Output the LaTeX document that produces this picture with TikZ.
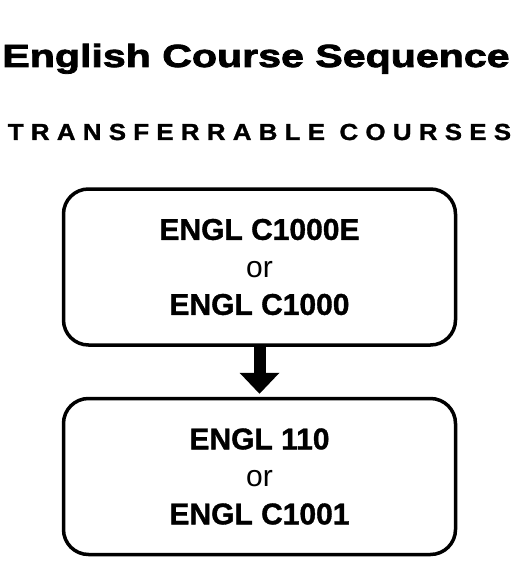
\documentclass[tikz,border=0pt]{standalone}
\usepackage{fontspec}
\setmainfont{Liberation Sans}[BoldFeatures={FakeBold=1.2}]
\newfontfamily\titlefont[FakeStretch=1.285,BoldFeatures={FakeBold=2.5}]{Liberation Sans}
\newfontfamily\subfont[LetterSpace=31,FakeStretch=1.12,BoldFeatures={FakeBold=1.2}]{Liberation Sans}
\usetikzlibrary{arrows.meta}

\begin{document}
\begin{tikzpicture}[x=1pt, y=-1pt, course box/.style={draw,thick,line width=3.5pt,rounded corners=25pt,minimum width=392pt,minimum height=156pt,inner sep=0pt,align=center,font=\fontsize{30}{37.5}\selectfont\bfseries}, heading/.style={anchor=base,inner sep=0pt}]
  \useasboundingbox (0,0) rectangle (517,572);

  \node[heading,font=\titlefont\fontsize{32}{32}\selectfont\bfseries] (t0) at (256,67) {English Course Sequence};
  \node[heading,font=\subfont\fontsize{23.2}{23.2}\selectfont\bfseries] (t1) at (259.5,140) {TRANSFERRABLE COURSES};

  \node[course box] (n0) at (259.5,267) {ENGL C1000E\\{\mdseries or}\\ENGL C1000};
  \node[course box] (n1) at (259.5,476.5) {ENGL 110\\{\mdseries or}\\ENGL C1001};
 \path[]
 (n0) [-{Triangle[width=40pt,length=21pt,line width=0pt]},line width=12pt,shorten >=3pt] edge node [] {} (n1);
\end{tikzpicture}
\end{document}
